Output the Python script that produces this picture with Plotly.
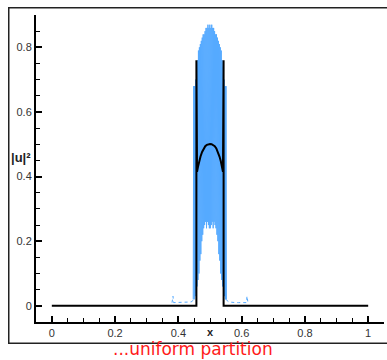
import numpy as np
import plotly.graph_objects as go

# exact solution (black)
EXACT_X = [0.0, 0.457, 0.457, 0.459, 0.462, 0.466, 0.470, 0.475, 0.480, 0.485, 0.490, 0.495, 0.500,
           0.505, 0.510, 0.515, 0.520, 0.525, 0.530, 0.534, 0.538, 0.541, 0.543, 0.543, 1.0]
EXACT_Y = [0.0, 0.0, 0.76, 0.415, 0.43, 0.448, 0.462, 0.476, 0.487, 0.494, 0.498, 0.500, 0.501,
           0.500, 0.498, 0.494, 0.487, 0.476, 0.462, 0.448, 0.43, 0.415, 0.76, 0.0, 0.0]

# numerical solution (blue), tails
LEFT_X = [0.380, 0.383, 0.385, 0.390, 0.400, 0.410, 0.420, 0.430, 0.440, 0.445, 0.447]
LEFT_Y = [0.010, 0.030, 0.010, 0.010, 0.010, 0.010, 0.010, 0.010, 0.012, 0.015, 0.02]
RIGHT_X = [0.552, 0.555, 0.560, 0.570, 0.580, 0.590, 0.600, 0.610, 0.615, 0.617, 0.620]
RIGHT_Y = [0.02, 0.015, 0.012, 0.010, 0.010, 0.010, 0.010, 0.010, 0.010, 0.030, 0.010]
# oscillating core
CORE_Y = [0.02, 0.68, 0.02, 0.68, 0.03, 0.70, 0.04, 0.74, 0.06, 0.76, 0.08, 0.79, 0.10, 0.80,
          0.14, 0.81, 0.16, 0.82, 0.20, 0.83, 0.22, 0.84, 0.24, 0.84, 0.25, 0.85, 0.26, 0.86,
          0.24, 0.86, 0.26, 0.87, 0.25, 0.86, 0.24, 0.87,
          0.24, 0.86, 0.25, 0.87, 0.26, 0.86, 0.24, 0.86, 0.26, 0.85, 0.25, 0.84, 0.24, 0.84,
          0.22, 0.83, 0.20, 0.82, 0.16, 0.81, 0.14, 0.80, 0.10, 0.79, 0.08, 0.76, 0.06, 0.74,
          0.04, 0.70, 0.03, 0.68, 0.02, 0.68, 0.02]
CORE_X = list(np.round(np.linspace(0.447, 0.552, len(CORE_Y)), 5))

X_TICKS = [0, 0.2, 0.4, 0.6, 0.8, 1]
Y_TICKS = [0, 0.2, 0.4, 0.6, 0.8]

BLUE = "#55aaff"
fig = go.Figure()
fig.add_trace(go.Scatter(x=LEFT_X, y=LEFT_Y, mode="lines",
                         line=dict(color=BLUE, width=1, dash="dot"), showlegend=False))
fig.add_trace(go.Scatter(x=RIGHT_X, y=RIGHT_Y, mode="lines",
                         line=dict(color=BLUE, width=1, dash="dot"), showlegend=False))
fig.add_trace(go.Scatter(x=CORE_X, y=CORE_Y, mode="lines",
                         line=dict(color=BLUE, width=1), showlegend=False))
fig.add_trace(go.Scatter(x=EXACT_X, y=EXACT_Y, mode="lines",
                         line=dict(color="black", width=2), showlegend=False))

W, H = 387, 360
L, R, T, B = 36, 3, 15, 38
pw, ph = W - L - R, H - T - B

def px(xp):
    return (xp - L) / pw

def py(yp):
    return (H - B - yp) / ph

axis_common = dict(showgrid=False, zeroline=False, showline=True, linecolor="black", linewidth=2,
                   ticks="inside", ticklen=6, tickwidth=1.5, tickcolor="black",
                   tickfont=dict(family="Liberation Sans", size=11, color="#333"),
                   minor=dict(dtick=0.05, ticks="inside", ticklen=4, tickwidth=1, tickcolor="black"))

fig.update_xaxes(range=[-0.05, 1.05], tickvals=X_TICKS, ticktext=[str(v) for v in X_TICKS],
                 **axis_common)
fig.update_yaxes(range=[-0.05, 0.9], tickvals=Y_TICKS, ticktext=[str(v) for v in Y_TICKS],
                 **axis_common)

annotations = [
    # outer frame
    dict(text="", xref="paper", yref="paper", x=px(8), y=py(7), xanchor="left", yanchor="top",
         width=388, height=334, bordercolor="#222", borderwidth=1.5, borderpad=0, showarrow=False),
    dict(text="<b>x</b>", xref="paper", yref="paper", x=px(210), y=py(332), showarrow=False,
         font=dict(family="Liberation Sans", size=11, color="#222"), xanchor="center", yanchor="middle",
         borderpad=0),
    dict(text="<b>|u|²</b>", xref="paper", yref="paper", x=px(21), y=py(157), showarrow=False,
         font=dict(family="Liberation Sans", size=13, color="#222"), xanchor="center", yanchor="middle"),
    dict(text="...uniform partition", xref="paper", yref="paper", x=px(193), y=py(360), showarrow=False,
         font=dict(family="DejaVu Sans", size=17, color="#ff1a1a"), xanchor="center", yanchor="bottom",
         borderpad=0),
]

fig.update_layout(width=W, height=H, margin=dict(l=L, r=R, t=T, b=B),
                  plot_bgcolor="white", paper_bgcolor="rgba(0,0,0,0)",
                  annotations=annotations, showlegend=False)

fig.write_html("out.html", config={"displayModeBar": False},
               post_script="document.body.style.margin='0';document.body.style.overflow='hidden';")
